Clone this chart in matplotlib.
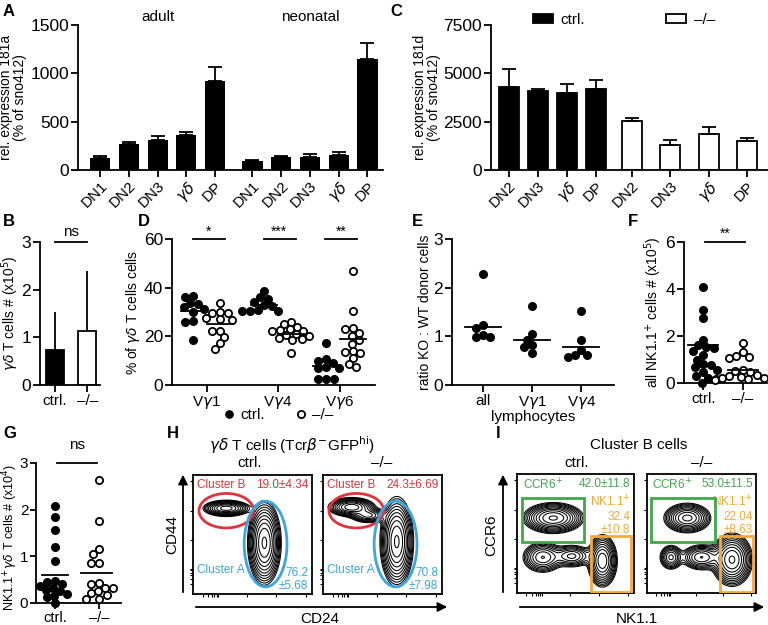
import matplotlib
matplotlib.use('Agg')
import matplotlib.pyplot as plt
import numpy as np
from matplotlib.patches import Ellipse, Rectangle
from matplotlib.lines import Line2D

plt.rcParams['font.family'] = ['Liberation Sans', 'DejaVu Sans']
plt.rcParams['axes.linewidth'] = 1.3
plt.rcParams['xtick.major.width'] = 1.3
plt.rcParams['ytick.major.width'] = 1.3
plt.rcParams['xtick.major.size'] = 5
plt.rcParams['ytick.major.size'] = 5
plt.rcParams['xtick.major.pad'] = 1.5
plt.rcParams['ytick.major.pad'] = 1.5

# ---- data ----
# A: miR-181a
a_labels = ['DN1', 'DN2', 'DN3', r'$\gamma\delta$', 'DP']
a_adult = [120, 265, 315, 360, 925]
a_adult_err = [20, 25, 35, 30, 140]
a_neo = [95, 135, 135, 155, 1145]
a_neo_err = [10, 10, 30, 30, 165]

# C: miR-181d
c_labels = ['DN2', 'DN3', r'$\gamma\delta$', 'DP']
c_ctrl = [4300, 4100, 4000, 4200]
c_ctrl_err = [900, 100, 450, 450]
c_ko = [2550, 1300, 1850, 1500]
c_ko_err = [150, 250, 350, 150]

# B: gd T cell numbers (x10^5)
b_vals = [0.73, 1.13]
b_err = [0.80, 1.27]

# D: % of gd T cells
d_groups = [r'V$\gamma$1', r'V$\gamma$4', r'V$\gamma$6']
d_ctrl = [
    [36.4, 36.2, 33.7, 33.1, 32.0, 31.2, 30.2, 26.5, 26.0, 18.6],
    [38.5, 36.0, 35.5, 34.0, 33.0, 32.5, 31.0, 30.5, 30.5, 30.5],
    [17.2, 10.5, 10.0, 9.0, 7.5, 7.0, 7.0, 2.5, 2.5, 2.5],
]
d_ko = [
    [33.6, 30.0, 29.6, 29.4, 27.6, 27.0, 26.8, 22.3, 22.0, 19.8, 17.2, 14.9],
    [26.0, 25.0, 24.0, 23.0, 22.5, 22.0, 22.0, 21.0, 20.5, 20.0, 19.5, 19.0, 18.5, 13.0],
    [47.0, 30.5, 23.5, 23.0, 21.5, 20.0, 18.5, 17.0, 14.0, 13.5, 13.0, 11.0, 8.5, 7.5],
]
d_ctrl_mean = [30.3, 33.0, 7.8]
d_ko_mean = [25.0, 21.0, 18.8]
d_stars = ['*', '***', '**']

# E: ratio KO : WT donor cells
e_groups = ['all', r'V$\gamma$1', r'V$\gamma$4']
e_vals = [
    [2.28, 1.23, 1.18, 1.02, 0.98, 0.98],
    [1.62, 1.04, 0.93, 0.82, 0.79, 0.66],
    [1.52, 0.93, 0.72, 0.62, 0.62, 0.57],
]
e_lines = [1.2, 0.92, 0.78]

# F: all NK1.1+ cells (x10^5)
f_ctrl = [4.1, 3.1, 2.75, 1.85, 1.6, 1.55, 1.5, 1.35, 1.2, 1.0, 0.8, 0.75, 0.7,
          0.55, 0.45, 0.3, 0.2, 0.15, 0.02]
f_ko = [1.72, 1.3, 1.15, 1.1, 1.05, 0.55, 0.5, 0.45, 0.35, 0.3, 0.25, 0.2, 0.2,
        0.15, 0.12]
f_means = [1.6, 0.55]

# G: NK1.1+ gd T cells (x10^4)
g_ctrl = [2.07, 1.84, 1.57, 1.2, 0.89, 0.48, 0.45, 0.4, 0.37, 0.33, 0.28, 0.25,
          0.19, 0.16, 0.12, 0.0]
g_ko = [2.63, 1.76, 1.15, 1.06, 0.86, 0.86, 0.42, 0.4, 0.33, 0.32, 0.25, 0.21,
        0.18, 0.09, 0.09]
g_means = [0.6, 0.65]

# H / I: contour populations (cx, cy, sx, sy, weight) in gate-box units
h_ctrl_pops = [(0.28, 0.72, 0.085, 0.030, 0.85), (0.60, 0.43, 0.060, 0.150, 1.0)]
h_ko_pops = [(0.24, 0.73, 0.085, 0.035, 0.9), (0.38, 0.66, 0.07, 0.03, 0.45),
             (0.62, 0.44, 0.060, 0.160, 1.0)]
i_ctrl_pops = [(0.31, 0.63, 0.110, 0.055, 1.0), (0.22, 0.30, 0.080, 0.060, 0.55),
               (0.47, 0.31, 0.080, 0.045, 0.45), (0.73, 0.27, 0.055, 0.095, 0.9)]
i_ko_pops = [(0.37, 0.63, 0.095, 0.055, 0.8), (0.22, 0.30, 0.050, 0.050, 0.45),
             (0.50, 0.30, 0.085, 0.050, 0.55), (0.78, 0.28, 0.080, 0.095, 1.0)]

BLACK = 'black'
RED = '#e0333c'
BLUE = '#3aa6dd'
GREEN = '#3ea84b'
ORANGE = '#f2aa3c'

W, H = 768, 625
fig = plt.figure(figsize=(7.68, 6.25), dpi=100)


def box(l, t, r, b):
    return fig.add_axes([l / W, 1 - b / H, (r - l) / W, (b - t) / H])


def ft(x, y, s, **kw):
    fig.text(x / W, 1 - y / H, s, **kw)


def clean(ax):
    ax.spines['top'].set_visible(False)
    ax.spines['right'].set_visible(False)
    ax.tick_params(labelsize=12.5)


def swarm(vals, ysc, xsc, d=7.2):
    placed = []
    offs = []
    cands = sorted(np.arange(-30, 31, 1.0), key=lambda v: (abs(v), v))
    for v in vals:
        y = v * ysc
        for x in cands:
            if all((x - px) ** 2 + (y - py) ** 2 >= d * d for px, py in placed):
                break
        placed.append((x, y))
        offs.append(x / xsc)
    return np.array(offs)


def dots(ax, xc, vals, filled, ysc, xsc):
    xs = xc + swarm(vals, ysc, xsc)
    ax.plot(xs, vals, 'o', ms=5.2, mec='k', mew=1.3,
            mfc='k' if filled else 'white', clip_on=False, zorder=3)


# ---- A ----
ax = box(78, 25, 383, 170)
clean(ax)
xa1 = np.arange(5)
xa2 = np.arange(5) + 5.3
ax.bar(xa1, a_adult, 0.7, color=BLACK)
ax.bar(xa2, a_neo, 0.7, color=BLACK)
ax.errorbar(xa1, a_adult, yerr=[np.zeros(5), a_adult_err], fmt='none', ecolor='k',
            elinewidth=1.3, capsize=5, capthick=1.3)
ax.errorbar(xa2, a_neo, yerr=[np.zeros(5), a_neo_err], fmt='none', ecolor='k',
            elinewidth=1.3, capsize=5, capthick=1.3)
ax.set_xlim(-0.77, 9.84)
ax.set_ylim(0, 1500)
ax.set_yticks([0, 500, 1000, 1500])
ax.set_xticks(np.concatenate([xa1, xa2]))
ax.set_xticklabels(a_labels + a_labels, rotation=45, ha='right',
                   rotation_mode='anchor', fontsize=11)
ax.set_ylabel('rel. expression 181a\n(% of sno412)', fontsize=10, labelpad=2,
              linespacing=1.0)
ax.text(2, 1545, 'adult', ha='center', fontsize=11)
ax.text(7.3, 1545, 'neonatal', ha='center', fontsize=11)

# ---- C ----
ax = box(491, 25, 768, 170)
clean(ax)
xc1 = np.arange(4)
xc2 = 4.24 + 1.32 * np.arange(4)
b1 = ax.bar(xc1, c_ctrl, 0.69, color=BLACK, edgecolor='k', linewidth=1.3)
b2 = ax.bar(xc2, c_ko, 0.69, color='white', edgecolor='k', linewidth=1.3)
ax.errorbar(xc1, c_ctrl, yerr=[np.zeros(4), c_ctrl_err], fmt='none', ecolor='k',
            elinewidth=1.3, capsize=5, capthick=1.3)
ax.errorbar(xc2, c_ko, yerr=[np.zeros(4), c_ko_err], fmt='none', ecolor='k',
            elinewidth=1.3, capsize=5, capthick=1.3)
ax.set_xlim(-0.62, 8.93)
ax.set_ylim(0, 7500)
ax.set_yticks([0, 2500, 5000, 7500])
ax.set_xticks(np.concatenate([xc1, xc2]))
ax.set_xticklabels(c_labels + c_labels, rotation=45, ha='right',
                   rotation_mode='anchor', fontsize=11)
ax.set_ylabel('rel. expression 181d\n(% of sno412)', fontsize=10, labelpad=2,
              linespacing=1.0)
ax.legend([b1, b2], ['ctrl.', '–/–'], ncol=2, loc='center',
          bbox_to_anchor=(0.48, 1.035), frameon=False, columnspacing=5.3,
          handlelength=1.3, handleheight=0.6, handletextpad=0.5, fontsize=11,
          borderpad=0, borderaxespad=0)

# ---- B ----
ax = box(40, 242, 100, 385)
clean(ax)
ax.bar([0, 1], b_vals, 0.57, color=['black', 'white'], edgecolor='k', linewidth=1.3)
ax.errorbar([0, 1], b_vals, yerr=[[0, 0], b_err], fmt='none', ecolor='k',
            elinewidth=1.3, capsize=0)
ax.set_xlim(-0.47, 1.4)
ax.set_ylim(0, 3)
ax.set_yticks([0, 1, 2, 3])
ax.set_xticks([0, 1])
ax.set_xticklabels(['ctrl.', '–/–'], fontsize=11)
ax.set_ylabel(r'$\gamma\delta$ T cells # (x10$^{5}$)', fontsize=10)
ax.yaxis.set_label_coords(-0.31, 0.5)
ax.plot([0, 1], [3, 3], 'k-', lw=1.3, clip_on=False)
ax.text(0.5, 3.12, 'ns', ha='center', fontsize=11)

# ---- D ----
ax = box(172, 239, 375, 385)
clean(ax)
dc = np.array([0, 1, 1.87])
for i in range(3):
    dots(ax, dc[i] - 0.19, d_ctrl[i], True, 2.43, 71)
    dots(ax, dc[i] + 0.19, d_ko[i], False, 2.43, 71)
    ax.plot([dc[i] - 0.37, dc[i] - 0.01], [d_ctrl_mean[i]] * 2, 'k-', lw=1.3, zorder=4)
    ax.plot([dc[i] + 0.01, dc[i] + 0.37], [d_ko_mean[i]] * 2, 'k-', lw=1.3, zorder=4)
    ax.plot([dc[i] - 0.2, dc[i] + 0.25], [60, 60], 'k-', lw=1.3, clip_on=False)
    ax.text(dc[i] + 0.02, 61.5, d_stars[i], ha='center', fontsize=10)
ax.set_xlim(-0.49, 2.37)
ax.set_ylim(0, 60)
ax.set_yticks([0, 20, 40, 60])
ax.set_xticks(dc)
ax.set_xticklabels(d_groups, fontsize=11)
ax.set_ylabel(r'% of $\gamma\delta$ T cells cells', fontsize=10, labelpad=1)
h1 = Line2D([], [], ls='none', marker='o', ms=5.2, mfc='k', mec='k')
h2 = Line2D([], [], ls='none', marker='o', ms=5.2, mfc='white', mec='k', mew=1.3)
ax.legend([h1, h2], ['ctrl.', '–/–'], ncol=2, loc='center',
          bbox_to_anchor=(0.52, -0.205), frameon=False, handletextpad=0.2,
          columnspacing=1.9, fontsize=11, handlelength=1.0, borderpad=0)

# ---- E ----
ax = box(452, 239, 614, 385)
clean(ax)
for i in range(3):
    dots(ax, i, e_vals[i], True, 48.7, 49)
    ax.plot([i - 0.37, i + 0.37], [e_lines[i]] * 2, 'k-', lw=1.3, zorder=4)
ax.set_xlim(-0.63, 2.67)
ax.set_ylim(0, 3)
ax.set_yticks([0, 1, 2, 3])
ax.set_xticks([0, 1, 2])
ax.set_xticklabels(e_groups, fontsize=11)
ax.set_xlabel('lymphocytes', fontsize=11, labelpad=-1)
ax.set_ylabel('ratio KO : WT donor cells', fontsize=10, labelpad=1)

# ---- F ----
ax = box(684, 242, 767, 383)
clean(ax)
dots(ax, 0, f_ctrl, True, 23.5, 40)
dots(ax, 1, f_ko, False, 23.5, 40)
ax.plot([-0.38, 0.38], [f_means[0]] * 2, 'k-', lw=1.3, zorder=4)
ax.plot([0.62, 1.38], [f_means[1]] * 2, 'k-', lw=1.3, zorder=4)
ax.plot([0.05, 1.05], [6, 6], 'k-', lw=1.3, clip_on=False)
ax.text(0.55, 6.2, '**', ha='center', fontsize=10)
ax.set_xlim(-0.48, 1.6)
ax.set_ylim(0, 6)
ax.set_yticks([0, 2, 4, 6])
ax.set_xticks([0, 1])
ax.set_xticklabels(['ctrl.', '–/–'], fontsize=11)
ax.set_ylabel(r'all NK1.1$^{+}$ cells # (x10$^{5}$)', fontsize=10, labelpad=1)

# ---- G ----
ax = box(36, 463, 121, 603)
clean(ax)
dots(ax, 0, g_ctrl, True, 46.7, 44)
dots(ax, 1, g_ko, False, 46.7, 44)
ax.plot([-0.3, 0.3], [g_means[0]] * 2, 'k-', lw=1.3, zorder=4)
ax.plot([0.6, 1.3], [g_means[1]] * 2, 'k-', lw=1.3, zorder=4)
ax.plot([0.04, 0.95], [3, 3], 'k-', lw=1.3, clip_on=False)
ax.text(0.5, 3.3, 'ns', ha='center', fontsize=11)
ax.set_xlim(-0.43, 1.5)
ax.set_ylim(0, 3)
ax.set_yticks([0, 1, 2, 3])
ax.set_xticks([0, 1])
ax.set_xticklabels(['ctrl.', '–/–'], fontsize=10.5)
ax.tick_params(axis='x', length=4)
ax.tick_params(axis='y', labelsize=11, length=4)
ax.set_ylabel(r'NK1.1$^{+}$$\gamma\delta$ T cells # (x10$^{4}$)', fontsize=9)
ax.yaxis.set_label_coords(-0.19, 0.47)


# ---- H / I flow plots ----
def flow(l, t, r, b, pops):
    ax = box(l, t, r, b)
    gx, gy = np.meshgrid(np.linspace(0, 1, 300), np.linspace(0, 1, 300))
    z = np.zeros_like(gx)
    for cx, cy, sx, sy, w in pops:
        z += w * np.exp(-0.5 * (((gx - cx) / sx) ** 2 + ((gy - cy) / sy) ** 2))
    lev = z.max() * np.geomspace(0.06, 0.95, 11)
    ax.contour(gx, gy, z, levels=lev, colors='k', linewidths=0.75)
    ax.set_xlim(0, 1)
    ax.set_ylim(0, 1)
    tk = [0.08, 0.13, 0.16, 0.18, 0.2, 0.21, 0.45, 0.7, 0.95]
    ax.set_xticks(tk)
    ax.set_yticks(tk)
    ax.set_xticklabels([])
    ax.set_yticklabels([])
    ax.tick_params(length=2, width=0.8)
    return ax


for (l, r), pops, top, bot in [((193, 312), h_ctrl_pops, '19.0±4.34', '76.2\n±5.68'),
                               ((323, 442), h_ko_pops, '24.3±6.69', '70.8\n±7.98')]:
    ax = flow(l, 475, r, 594, pops)
    ax.add_patch(Ellipse((0.28, 0.70), 0.46, 0.29, fill=False, ec=RED, lw=2, zorder=5))
    ax.add_patch(Ellipse((0.61, 0.42), 0.36, 0.72, fill=False, ec=BLUE, lw=2, zorder=5))
    ax.text(0.03, 0.97, 'Cluster B', color=RED, fontsize=8.5, va='top')
    ax.text(0.97, 0.97, top, color=RED, fontsize=8.5, va='top', ha='right')
    ax.text(0.03, 0.2, 'Cluster A', color=BLUE, fontsize=8.5, va='center')
    ax.text(0.97, 0.02, bot, color=BLUE, fontsize=8.5, va='bottom', ha='right',
            linespacing=1.1)

for (l, r), pops, top, orng, gx0, ox in [
        ((517, 634), i_ctrl_pops, '42.0±11.8', 'NK1.1$^{+}$\n32.4\n±10.8', 0.57, 0.63),
        ((647, 756), i_ko_pops, '53.0±11.5', 'NK1.1$^{+}$\n22.04\n±8.63', 0.62, 0.67)]:
    ax = flow(l, 474, r, 593, pops)
    ax.add_patch(Rectangle((0.04, 0.43), gx0 - 0.04, 0.37, fill=False, ec=GREEN,
                           lw=2, zorder=5))
    ax.add_patch(Rectangle((ox, 0.01), 0.975 - ox, 0.47, fill=False, ec=ORANGE,
                           lw=2, zorder=5))
    ax.text(0.05, 0.97, 'CCR6$^{+}$', color=GREEN, fontsize=8.5, va='top')
    ax.text(0.97, 0.97, top, color=GREEN, fontsize=8.5, va='top', ha='right')
    ax.text(0.97, 0.83, orng, color=ORANGE, fontsize=8.5, va='top', ha='right',
            linespacing=1.15)

# arrows and free text
ov = fig.add_axes([0, 0, 1, 1])
ov.set_xlim(0, W)
ov.set_ylim(H, 0)
ov.axis('off')
arr = dict(arrowstyle='-|>', color='k', lw=1.3, mutation_scale=14)
ov.annotate('', xy=(183, 472), xytext=(183, 595), arrowprops=arr)
ov.annotate('', xy=(450, 607), xytext=(193, 607), arrowprops=arr)
ov.annotate('', xy=(503, 472), xytext=(503, 595), arrowprops=arr)
ov.annotate('', xy=(767, 607), xytext=(517, 607), arrowprops=arr)

ft(172, 535, 'CD44', rotation=90, ha='center', va='center', fontsize=11)
ft(320, 619, 'CD24', ha='center', va='center', fontsize=11)
ft(491, 535, 'CCR6', rotation=90, ha='center', va='center', fontsize=11)
ft(637, 619, 'NK1.1', ha='center', va='center', fontsize=11)
ft(292, 445, r'$\gamma\delta$ T cells (Tcr$\beta^{-}$GFP$^{\rm hi}$)', ha='center',
   va='center', fontsize=11)
ft(250, 463, 'ctrl.', ha='center', va='center', fontsize=11)
ft(382, 463, '–/–', ha='center', va='center', fontsize=11)
ft(639, 445, 'Cluster B cells', ha='center', va='center', fontsize=11)
ft(577, 463, 'ctrl.', ha='center', va='center', fontsize=11)
ft(702, 463, '–/–', ha='center', va='center', fontsize=11)

for lab, x, y in [('A', 3, 12), ('C', 390, 12), ('B', 3, 222), ('D', 138, 222),
                  ('E', 412, 222), ('F', 628, 222), ('G', 3, 433), ('H', 167, 433),
                  ('I', 496, 434)]:
    ft(x, y, lab, fontsize=12, fontweight='bold', va='center')

fig.savefig('out.png', dpi=100)
